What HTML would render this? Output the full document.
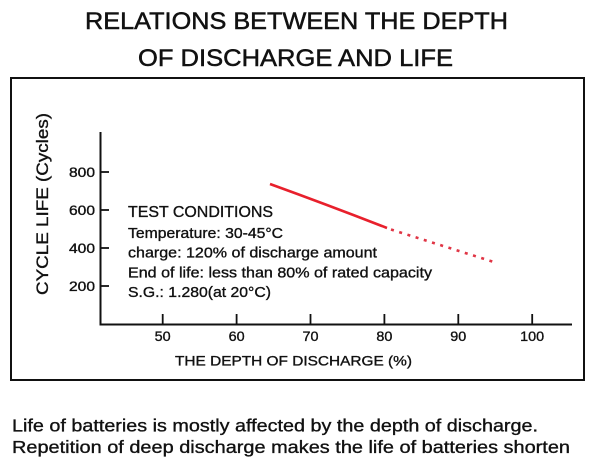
<!DOCTYPE html>
<html>
<head>
<meta charset="utf-8">
<style>
  html, body { margin:0; padding:0; background:#fff; }
  body { width:600px; height:467px; overflow:hidden; }
  svg { display:block; }
  text { font-family: "Liberation Sans", Arial, sans-serif; fill:#111; stroke:#111; stroke-width:0.35px; }
</style>
</head>
<body>
<svg width="600" height="467" viewBox="0 0 600 467" xmlns="http://www.w3.org/2000/svg">
  <!-- Title -->
  <text x="85" y="29" font-size="24.5" textLength="423" lengthAdjust="spacingAndGlyphs" style="stroke-width:0.5px">RELATIONS BETWEEN THE DEPTH</text>
  <text x="138" y="66" font-size="24.5" textLength="315" lengthAdjust="spacingAndGlyphs" style="stroke-width:0.5px">OF DISCHARGE AND LIFE</text>

  <!-- Box -->
  <rect x="11" y="78" width="573" height="302" fill="none" stroke="#111" stroke-width="2"/>

  <!-- Axes -->
  <line x1="100.5" y1="132" x2="100.5" y2="325.5" stroke="#111" stroke-width="2"/>
  <line x1="99.5" y1="324.5" x2="572" y2="324.5" stroke="#111" stroke-width="2"/>

  <!-- Y ticks -->
  <g stroke="#111" stroke-width="1.8">
    <line x1="100" y1="172" x2="109" y2="172"/>
    <line x1="100" y1="210" x2="109" y2="210"/>
    <line x1="100" y1="248" x2="109" y2="248"/>
    <line x1="100" y1="286" x2="109" y2="286"/>
  </g>
  <!-- X ticks -->
  <g stroke="#111" stroke-width="1.8">
    <line x1="162.7" y1="314" x2="162.7" y2="324"/>
    <line x1="236.6" y1="314" x2="236.6" y2="324"/>
    <line x1="310.5" y1="314" x2="310.5" y2="324"/>
    <line x1="384.4" y1="314" x2="384.4" y2="324"/>
    <line x1="458.3" y1="314" x2="458.3" y2="324"/>
    <line x1="532.2" y1="314" x2="532.2" y2="324"/>
  </g>

  <!-- Y tick labels -->
  <g font-size="13.5">
    <text x="69" y="177" textLength="26" lengthAdjust="spacingAndGlyphs">800</text>
    <text x="69" y="215" textLength="26" lengthAdjust="spacingAndGlyphs">600</text>
    <text x="69" y="253" textLength="26" lengthAdjust="spacingAndGlyphs">400</text>
    <text x="69" y="291" textLength="26" lengthAdjust="spacingAndGlyphs">200</text>
  </g>
  <!-- X tick labels -->
  <g font-size="13.5">
    <text x="154.7" y="341" textLength="16" lengthAdjust="spacingAndGlyphs">50</text>
    <text x="228.6" y="341" textLength="16" lengthAdjust="spacingAndGlyphs">60</text>
    <text x="302.5" y="341" textLength="16" lengthAdjust="spacingAndGlyphs">70</text>
    <text x="376.4" y="341" textLength="16" lengthAdjust="spacingAndGlyphs">80</text>
    <text x="450.3" y="341" textLength="16" lengthAdjust="spacingAndGlyphs">90</text>
    <text x="520.2" y="341" textLength="24" lengthAdjust="spacingAndGlyphs">100</text>
  </g>

  <!-- Axis titles -->
  <text x="175" y="365.5" font-size="14" textLength="237" lengthAdjust="spacingAndGlyphs">THE DEPTH OF DISCHARGE (%)</text>
  <text transform="translate(48,295) rotate(-90)" x="0" y="0" font-size="16.5" textLength="182" lengthAdjust="spacingAndGlyphs">CYCLE LIFE (Cycles)</text>

  <!-- Test conditions -->
  <text x="128" y="217" font-size="16" textLength="145" lengthAdjust="spacingAndGlyphs">TEST CONDITIONS</text>
  <text x="128" y="238" font-size="15" textLength="155" lengthAdjust="spacingAndGlyphs">Temperature: 30-45°C</text>
  <text x="128" y="257.5" font-size="15" textLength="249" lengthAdjust="spacingAndGlyphs">charge: 120% of discharge amount</text>
  <text x="128" y="277.5" font-size="15" textLength="304" lengthAdjust="spacingAndGlyphs">End of life: less than 80% of rated capacity</text>
  <text x="128" y="297" font-size="15" textLength="143" lengthAdjust="spacingAndGlyphs">S.G.: 1.280(at 20°C)</text>

  <!-- Red series -->
  <path d="M270 184 Q328 205 387 228" fill="none" stroke="#e8202c" stroke-width="2.6"/>
  <line x1="391" y1="229.5" x2="497" y2="263" stroke="#e03545" stroke-width="2.6" stroke-dasharray="3 5.6"/>

  <!-- Bottom text -->
  <text x="12" y="431.5" font-size="17.5" textLength="526" lengthAdjust="spacingAndGlyphs">Life of batteries is mostly affected by the depth of discharge.</text>
  <text x="12" y="453" font-size="17.5" textLength="558" lengthAdjust="spacingAndGlyphs">Repetition of deep discharge makes the life of batteries shorten</text>
</svg>
</body>
</html>
